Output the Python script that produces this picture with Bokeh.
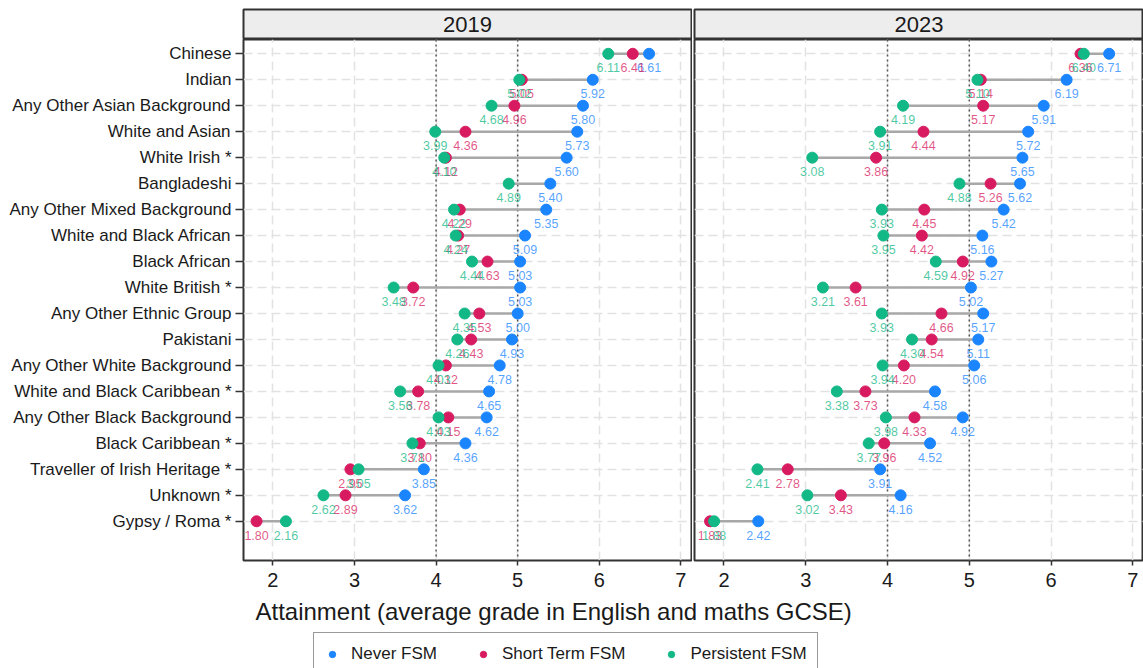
#Dumbbell chart of GCSE attainment by ethnic group and FSM status, 2019 vs 2023

import math

from bokeh.plotting import figure
from bokeh.layouts import row, column
from bokeh.models import Range1d, FixedTicker, Span, Label, Legend, LegendItem
from bokeh.core.properties import value
from bokeh.embed import file_html
from bokeh.resources import INLINE

nan = float("nan")

#### DATA ####
#ethnic groups, top to bottom
groups = ["Chinese",
          "Indian",
          "Any Other Asian Background",
          "White and Asian",
          "White Irish *",
          "Bangladeshi",
          "Any Other Mixed Background",
          "White and Black African",
          "Black African",
          "White British *",
          "Any Other Ethnic Group",
          "Pakistani",
          "Any Other White Background",
          "White and Black Caribbean *",
          "Any Other Black Background",
          "Black Caribbean *",
          "Traveller of Irish Heritage *",
          "Unknown *",
          "Gypsy / Roma *"]

#2019
never_2019 = [6.61, 5.92, 5.80, 5.73, 5.60, 5.40, 5.35, 5.09, 5.03, 5.03,
              5.00, 4.93, 4.78, 4.65, 4.62, 4.36, 3.85, 3.62, nan]
short_2019 = [6.41, 5.05, 4.96, 4.36, 4.12, nan, 4.29, 4.27, 4.63, 3.72,
              4.53, 4.43, 4.12, 3.78, 4.15, 3.80, 2.95, 2.89, 1.80]
persistent_2019 = [6.11, 5.02, 4.68, 3.99, 4.10, 4.89, 4.22, 4.24, 4.44, 3.48,
                   4.35, 4.26, 4.03, 3.56, 4.03, 3.71, 3.05, 2.62, 2.16]

#2023
never_2023 = [6.71, 6.19, 5.91, 5.72, 5.65, 5.62, 5.42, 5.16, 5.27, 5.02,
              5.17, 5.11, 5.06, 4.58, 4.92, 4.52, 3.91, 4.16, 2.42]
short_2023 = [6.36, 5.14, 5.17, 4.44, 3.86, 5.26, 4.45, 4.42, 4.92, 3.61,
              4.66, 4.54, 4.20, 3.73, 4.33, 3.96, 2.78, 3.43, 1.83]
persistent_2023 = [6.40, 5.10, 4.19, 3.91, 3.08, 4.88, 3.93, 3.95, 4.59, 3.21,
                   3.93, 4.30, 3.94, 3.38, 3.98, 3.77, 2.41, 3.02, 1.88]

years = ["2019", "2023"]
series_names = ["Never FSM", "Short Term FSM", "Persistent FSM"]
x_ticks = [2, 3, 4, 5, 6, 7]
ref_lines = [4, 5]

#### STYLE ####
FONT = "Liberation Sans"
DARK = "#1a1a1a"
BORDER = "#333333"
series_colors = ["#1a85ff", "#d81b60", "#12b886"]

#y positions: first group at the top
n = len(groups)
ypos = [n - i for i in range(n)]


def make_strip(text, width, left, right):
    s = figure(width=width, height=39, x_range=Range1d(0, 1), y_range=Range1d(0, 1),
               toolbar_location=None, output_backend="svg",
               x_axis_location=None, y_axis_location=None,
               min_border_left=left, min_border_right=right,
               min_border_top=9, min_border_bottom=0)
    s.grid.visible = False
    s.background_fill_color = "#ededed"
    s.outline_line_color = BORDER
    s.outline_line_width = 2
    s.add_layout(Label(x=0.5, y=0.5, text=text, text_align="center", text_baseline="middle",
                       text_font=FONT, text_font_size="22px", text_color=DARK))
    return s


def make_panel(series, width, left, right, show_groups):
    p = figure(width=width, height=557,
               x_range=Range1d(1.64, 7.13), y_range=Range1d(-0.51, 19.55),
               toolbar_location=None, output_backend="svg",
               y_axis_location="left" if show_groups else None,
               min_border_left=left, min_border_right=right,
               min_border_top=0, min_border_bottom=36)
    p.outline_line_color = BORDER
    p.outline_line_width = 2
    p.background_fill_color = "white"

    #dashed grid
    p.xgrid.ticker = FixedTicker(ticks=x_ticks)
    p.ygrid.ticker = FixedTicker(ticks=ypos)
    p.grid.grid_line_color = "#e2e2e2"
    p.grid.grid_line_width = 1.5
    p.grid.grid_line_dash = "9 5"

    #dotted reference lines at grade 4 and 5
    for v in ref_lines:
        p.add_layout(Span(location=v, dimension="height", line_color="#555555",
                          line_width=1.5, line_dash="2 3", level="underlay"))

    #connector from lowest to highest value in each row
    lo = []
    hi = []
    for vals in zip(*series):
        ok = [v for v in vals if not math.isnan(v)]
        lo.append(min(ok))
        hi.append(max(ok))
    p.segment(x0=lo, y0=ypos, x1=hi, y1=ypos, line_color="#a8a8a8", line_width=2.5)

    #points
    kept = []
    for vals, col in zip(series, series_colors):
        xs = [v for v in vals if not math.isnan(v)]
        ys = [y for v, y in zip(vals, ypos) if not math.isnan(v)]
        kept.append((xs, ys, col))
        p.scatter(x=xs, y=ys, size=11, color=col)

    #value labels under the points
    for xs, ys, col in kept:
        p.text(x=xs, y=ys, text=["%.2f" % v for v in xs], y_offset=14,
               text_align="center", text_baseline="middle",
               text_font=value(FONT), text_font_size="12.5px",
               text_color=col, text_alpha=0.75)

    #x axis
    xa = p.xaxis[0]
    xa.ticker = FixedTicker(ticks=x_ticks)
    xa.axis_line_color = None
    xa.major_tick_in = 0
    xa.major_tick_out = 5
    xa.minor_tick_in = 0
    xa.minor_tick_out = 0
    xa.major_tick_line_color = BORDER
    xa.major_tick_line_width = 1.5
    xa.major_label_standoff = 7
    xa.major_label_text_font = FONT
    xa.major_label_text_font_size = "20px"
    xa.major_label_text_color = DARK

    #y axis with group names (left panel only)
    if show_groups:
        ya = p.yaxis[0]
        ya.ticker = FixedTicker(ticks=ypos)
        ya.major_label_overrides = {y: g for y, g in zip(ypos, groups)}
        ya.axis_line_color = None
        ya.major_tick_in = 0
        ya.major_tick_out = 8
        ya.minor_tick_in = 0
        ya.minor_tick_out = 0
        ya.major_tick_line_color = BORDER
        ya.major_tick_line_width = 1.5
        ya.major_label_standoff = 4
        ya.major_label_text_font = FONT
        ya.major_label_text_font_size = "17px"
        ya.major_label_text_color = DARK
    return p


#### BUILD PANELS ####
strip_left = make_strip(years[0], 692, 243, 1)
strip_right = make_strip(years[1], 451, 2, 0)

panel_left = make_panel([never_2019, short_2019, persistent_2019], 692, 243, 1, True)
panel_right = make_panel([never_2023, short_2023, persistent_2023], 451, 2, 0, False)

#### AXIS TITLE AND LEGEND ####
bottom = figure(width=1143, height=72, x_range=Range1d(0, 1143), y_range=Range1d(0, 72),
                toolbar_location=None, output_backend="svg",
                x_axis_location=None, y_axis_location=None, min_border=0)
bottom.grid.visible = False
bottom.outline_line_color = None
bottom.add_layout(Label(x=255, y=57, text="Attainment (average grade in English and maths GCSE)",
                        text_baseline="middle", text_font=FONT, text_font_size="24px",
                        text_color=DARK))

#legend keys (placeholder points that never show, only their legend glyphs do)
items = []
for name, col in zip(series_names, series_colors):
    r = bottom.scatter(x=[nan], y=[nan], size=11, color=col)
    items.append(LegendItem(label=name, renderers=[r]))

legend = Legend(items=items, orientation="horizontal", location=(313, -8),
                padding=10, spacing=38, margin=0,
                glyph_width=16, glyph_height=22, label_height=22, label_standoff=11,
                label_text_font=FONT, label_text_font_size="17px", label_text_color=DARK,
                border_line_color=BORDER, border_line_width=1.5,
                background_fill_color="white", background_fill_alpha=1.0)
bottom.add_layout(legend)

#### WRITE PAGE ####
page = column(row(strip_left, strip_right), row(panel_left, panel_right), bottom)
open("out.html", "w").write(file_html(page, INLINE))
